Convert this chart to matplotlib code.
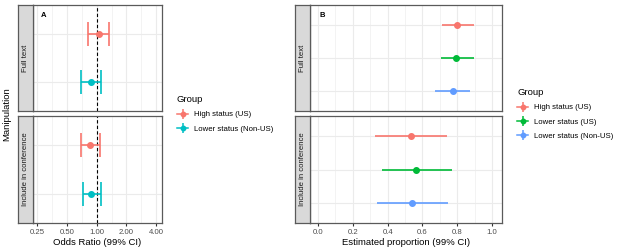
import numpy as np
import matplotlib.pyplot as plt
from matplotlib.lines import Line2D
from matplotlib.legend_handler import HandlerTuple
from matplotlib.ticker import NullFormatter

plt.rcParams['font.family'] = ['Liberation Sans', 'DejaVu Sans']

W, H = 617, 250

manipulations = ["Full text", "Include in conference"]

# panel A: odds ratios
groups_a = ["High status (US)", "Lower status (Non-US)"]
colors_a = ["#F8766D", "#00BFC4"]
or_full_est = [1.05, 0.87]
or_full_lo = [0.81, 0.69]
or_full_hi = [1.32, 1.11]
or_conf_est = [0.85, 0.88]
or_conf_lo = [0.69, 0.72]
or_conf_hi = [1.07, 1.11]
or_ticks = [0.25, 0.5, 1, 2, 4]
or_labels = ["0.25", "0.50", "1.00", "2.00", "4.00"]

# panel B: estimated proportions
groups_b = ["High status (US)", "Lower status (US)", "Lower status (Non-US)"]
colors_b = ["#F8766D", "#00BA38", "#619CFF"]
p_full_est = [0.80, 0.795, 0.775]
p_full_lo = [0.71, 0.705, 0.67]
p_full_hi = [0.895, 0.895, 0.875]
p_conf_est = [0.535, 0.565, 0.54]
p_conf_lo = [0.33, 0.37, 0.34]
p_conf_hi = [0.74, 0.77, 0.745]
p_ticks = [0.0, 0.2, 0.4, 0.6, 0.8, 1.0]

TICK_FS = 5.6
TITLE_FS = 6.8


def box(x0, y0, x1, y1):
    return [x0 / W, 1 - y1 / H, (x1 - x0) / W, (y1 - y0) / H]


fig = plt.figure(figsize=(W / 100, H / 100), dpi=100)

rows_px = [(5, 111), (116, 223)]
grid_c = "#EBEBEB"
border_c = "#5a5a5a"


def style_panel(ax, strip_ax, label, show_x):
    for s in ax.spines.values():
        s.set_color(border_c)
        s.set_linewidth(0.9)
    ax.set_yticks([])
    ax.xaxis.set_minor_formatter(NullFormatter())
    ax.tick_params(axis="x", length=2, color="#333333", labelsize=TICK_FS,
                   labelcolor="#4D4D4D", pad=2)
    ax.tick_params(axis="x", which="minor", length=0)
    if not show_x:
        ax.tick_params(axis="x", labelbottom=False, length=0)
    strip_ax.set_facecolor("#D9D9D9")
    strip_ax.set_xticks([])
    strip_ax.set_yticks([])
    for s in strip_ax.spines.values():
        s.set_color(border_c)
        s.set_linewidth(0.9)
    strip_ax.text(0.5, 0.5, label, rotation=90, ha="center", va="center",
                  fontsize=TICK_FS, color="#1A1A1A",
                  transform=strip_ax.transAxes)


# ---- panel A ----
a_data = [(or_full_est, or_full_lo, or_full_hi),
          (or_conf_est, or_conf_lo, or_conf_hi)]
for i, (est, lo, hi) in enumerate(a_data):
    y0, y1 = rows_px[i]
    ax = fig.add_axes(box(33, y0, 162, y1))
    sax = fig.add_axes(box(18, y0, 33, y1))
    ax.set_xscale("log", base=2)
    ax.set_xticks(or_ticks)
    ax.set_xticklabels(or_labels)
    minor = [2 ** (k + 0.5) for k in range(-2, 2)]
    ax.set_xticks(minor, minor=True)
    ax.set_xlim(0.226, 4.6)
    ax.set_ylim(0.4, 2.6)
    ax.grid(True, which="major", axis="x", color=grid_c, lw=0.8)
    ax.grid(True, which="minor", axis="x", color=grid_c, lw=0.4)
    for yy in [1, 2]:
        ax.axhline(yy, color=grid_c, lw=0.8, zorder=0)
    ax.set_axisbelow(True)
    ax.axvline(1, color="black", ls=(0, (3, 2)), lw=0.8, zorder=1)
    for j in range(len(groups_a)):
        yy = 2 - j
        ax.errorbar(est[j], yy,
                    xerr=[[est[j] - lo[j]], [hi[j] - est[j]]],
                    fmt="o", color=colors_a[j], ms=4, elinewidth=1.2,
                    capsize=8.6, capthick=1.2, zorder=3)
    style_panel(ax, sax, manipulations[i], i == 1)
    if i == 0:
        ax.text(0.06, 0.9, "A", transform=ax.transAxes, fontsize=5.5,
                fontweight="bold", ha="left", va="center")
    else:
        ax.set_xlabel("Odds Ratio (99% CI)", fontsize=TITLE_FS, labelpad=1.5)

fig.text(7 / W, 1 - 114 / H, "Manipulation", rotation=90, ha="center",
         va="center", fontsize=TITLE_FS)

# ---- panel B ----
b_data = [(p_full_est, p_full_lo, p_full_hi),
          (p_conf_est, p_conf_lo, p_conf_hi)]
for i, (est, lo, hi) in enumerate(b_data):
    y0, y1 = rows_px[i]
    ax = fig.add_axes(box(310, y0, 502, y1))
    sax = fig.add_axes(box(295, y0, 310, y1))
    ax.set_xticks(p_ticks)
    ax.set_xticklabels([f"{t:.1f}" for t in p_ticks])
    ax.set_xticks(np.array(p_ticks[:-1]) + 0.1, minor=True)
    ax.set_xlim(-0.046, 1.057)
    ax.set_ylim(0.4, 3.6)
    ax.grid(True, which="major", axis="x", color=grid_c, lw=0.8)
    ax.grid(True, which="minor", axis="x", color=grid_c, lw=0.4)
    for yy in [1, 2, 3]:
        ax.axhline(yy, color=grid_c, lw=0.8, zorder=0)
    ax.set_axisbelow(True)
    for j in range(len(groups_b)):
        yy = 3 - j
        ax.errorbar(est[j], yy,
                    xerr=[[est[j] - lo[j]], [hi[j] - est[j]]],
                    fmt="o", color=colors_b[j], ms=4, elinewidth=1.2,
                    capsize=0, zorder=3)
    style_panel(ax, sax, manipulations[i], i == 1)
    if i == 0:
        ax.text(0.05, 0.9, "B", transform=ax.transAxes, fontsize=5.5,
                fontweight="bold", ha="left", va="center")
    else:
        ax.set_xlabel("Estimated proportion (99% CI)", fontsize=TITLE_FS,
                      labelpad=1.5)


def legend_handles(colors):
    hs = []
    for c in colors:
        h1 = Line2D([], [], color=c, marker="o", ms=3.2, lw=1.1)
        h2 = Line2D([], [], color=c, marker="|", ms=7, mew=1.1, ls="none")
        hs.append((h1, h2))
    return hs


leg_kw = dict(loc="upper left", frameon=False, fontsize=TICK_FS,
              title_fontsize=TITLE_FS,
              handler_map={tuple: HandlerTuple(ndivide=1)},
              handlelength=1.45, handletextpad=0.75, labelspacing=0.88,
              alignment="left", borderpad=0, borderaxespad=0)
fig.legend(legend_handles(colors_a), groups_a, title="Group",
           bbox_to_anchor=(177 / W, 1 - 95 / H), **leg_kw)
fig.legend(legend_handles(colors_b), groups_b, title="Group",
           bbox_to_anchor=(517 / W, 1 - 88 / H), **leg_kw)

fig.savefig("out.png", dpi=100)
